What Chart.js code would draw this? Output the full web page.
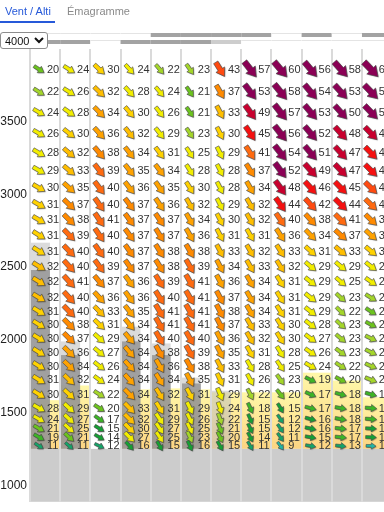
<!DOCTYPE html>
<html>
<head>
<meta charset="utf-8">
<script src="https://cdn.jsdelivr.net/npm/chart.js@4.4.0/dist/chart.umd.min.js"></script>
<style>
  html, body { margin: 0; padding: 0; background: #fff; width: 384px; height: 512px; overflow: hidden; font-family: "Liberation Sans", Arial, sans-serif; }
  #wrap { position: relative; width: 384px; height: 512px; }
  #graf { position: absolute; left: 0; top: 0; }
  .onglet { position: absolute; top: 5px; font-size: 11px; }
  #ongletVent { left: 5px; color: #2659d9; }
  #ongletEma { left: 67px; color: #8a8a8a; }
  #souligne { position: absolute; left: 0; top: 21px; width: 55px; height: 2px; background: #2659d9; }
  #altiMax { position: absolute; left: 0; top: 32px; width: 48px; height: 17px; font-size: 11px; padding: 0; border: 1px solid #8c8c8c; border-radius: 3px; background: #fff; color: #111; z-index: 2; }
</style>
</head>
<body>
<div id="wrap">
  <canvas id="graf" width="384" height="512"></canvas>
  <div class="onglet" id="ongletVent">Vent / Alti</div>
  <div class="onglet" id="ongletEma">Émagramme</div>
  <div id="souligne"></div>
  <select id="altiMax"><option>4000</option><option>6000</option></select>
</div>
<script>
// altitude des niveaux du modèle (m)
var altitudes = [3860, 3705, 3565, 3420, 3285, 3165, 3045, 2930, 2825, 2720, 2610, 2505, 2400, 2290, 2195, 2105, 2010, 1915, 1820, 1725, 1625, 1530, 1455, 1390, 1330, 1270];
var yTicks = [1000, 1500, 2000, 2500, 3000, 3500];
var sol = 1250;

// vitesse du vent (km/h), une liste par colonne horaire
var vitesses = [
  [20, 22, 24, 26, 28, 29, 30, 31, 31, 31, 31, 32, 32, 32, 31, 30, 30, 30, 30, 31, 30, 28, 24, 21, 19, 11],
  [24, 26, 28, 30, 32, 33, 35, 37, 38, 39, 40, 40, 41, 40, 40, 38, 37, 36, 34, 32, 31, 29, 27, 25, 21, 11],
  [30, 32, 34, 36, 38, 39, 40, 40, 41, 40, 40, 39, 37, 36, 33, 31, 29, 27, 26, 24, 22, 20, 17, 15, 14, 12],
  [24, 28, 30, 32, 34, 35, 36, 37, 37, 37, 37, 37, 36, 36, 35, 34, 34, 34, 34, 34, 34, 33, 32, 30, 27, 16],
  [22, 24, 26, 29, 31, 34, 35, 36, 37, 37, 38, 38, 39, 40, 41, 41, 40, 38, 36, 34, 32, 31, 29, 27, 25, 15],
  [23, 21, 21, 23, 25, 28, 30, 32, 34, 36, 38, 39, 41, 41, 41, 41, 40, 39, 38, 35, 31, 29, 26, 25, 23, 16],
  [43, 37, 33, 30, 29, 28, 28, 29, 30, 31, 33, 34, 36, 37, 38, 37, 36, 35, 33, 31, 29, 24, 22, 21, 20, 15],
  [57, 53, 49, 45, 41, 37, 34, 32, 32, 31, 32, 33, 34, 34, 34, 33, 32, 31, 28, 26, 22, 18, 15, 15, 14, 11],
  [60, 58, 57, 56, 54, 52, 48, 44, 40, 36, 33, 32, 31, 31, 31, 30, 30, 28, 25, 23, 20, 15, 12, 12, 11, 9],
  [56, 54, 53, 52, 51, 49, 46, 42, 38, 34, 31, 29, 29, 29, 29, 28, 27, 26, 24, 19, 17, 17, 16, 16, 15, 12],
  [58, 53, 50, 48, 47, 47, 45, 44, 41, 37, 33, 29, 25, 23, 22, 23, 23, 23, 22, 20, 18, 18, 18, 17, 17, 13],
  [62, 56, 53, 48, 45, 44, 43, 40, 38, 35, 31, 28, 26, 23, 21, 20, 22, 22, 22, 23, 19, 18, 17, 15, 14, 10]
];

// direction d'où vient le vent (degrés)
var directions = [
  [303, 302, 300, 300, 300, 300, 300, 300, 300, 302, 302, 302, 302, 302, 302, 302, 302, 302, 302, 302, 302, 300, 300, 300, 300, 303],
  [302, 302, 305, 308, 310, 310, 312, 314, 315, 316, 316, 318, 318, 318, 316, 316, 315, 315, 314, 314, 313, 313, 313, 312, 312, 310],
  [313, 314, 316, 318, 320, 322, 323, 325, 326, 326, 325, 324, 320, 318, 316, 314, 312, 310, 308, 306, 303, 303, 305, 302, 300, 296],
  [318, 318, 320, 322, 322, 322, 322, 323, 324, 324, 325, 325, 324, 324, 322, 321, 320, 320, 318, 318, 316, 316, 315, 315, 315, 318],
  [320, 320, 322, 322, 323, 323, 325, 326, 326, 328, 328, 328, 328, 328, 329, 330, 330, 330, 330, 328, 328, 328, 326, 326, 326, 330],
  [325, 326, 326, 326, 327, 328, 328, 330, 330, 330, 330, 330, 330, 330, 330, 330, 330, 330, 330, 332, 332, 334, 334, 334, 335, 335],
  [328, 330, 332, 333, 333, 333, 333, 333, 333, 332, 332, 332, 332, 332, 332, 332, 332, 332, 332, 335, 337, 340, 340, 338, 335, 330],
  [322, 323, 324, 326, 327, 328, 330, 330, 330, 330, 330, 330, 330, 330, 330, 330, 330, 330, 330, 332, 333, 335, 336, 335, 333, 330],
  [320, 321, 322, 322, 322, 323, 324, 325, 326, 327, 328, 328, 328, 328, 328, 328, 328, 328, 326, 325, 322, 330, 326, 326, 325, 324],
  [320, 320, 320, 320, 320, 318, 318, 318, 318, 316, 312, 310, 308, 308, 308, 307, 306, 304, 300, 296, 294, 285, 285, 282, 280, 280],
  [318, 318, 318, 318, 318, 316, 316, 315, 315, 312, 310, 310, 310, 312, 314, 312, 310, 306, 303, 298, 286, 280, 280, 276, 276, 276],
  [316, 316, 316, 316, 316, 315, 314, 314, 314, 312, 310, 308, 305, 302, 303, 298, 296, 296, 294, 292, 286, 275, 274, 273, 272, 272]
];

// sommet des thermiques, nuages (m) par colonne, null = rien
var thermique = [1585, 1686, null, 1659, 1666, 1659, 1639, 1639, 1639, 1774, 1720, 1605];
var nuageDense = [2480, 1895, null, 1989, 1895, 1700, null, null, null, null, null, null];
var nuageClair = [2668, 1989, null, 2090, 1975, 1740, 1650, null, null, null, null, null];

// couverture nuageuse haute / moyenne (0 rien, 1 peu, 2 couvert)
var couvHaute = [0, 0, 0, 0, 2, 2, 2, 2, 0, 2, 0, 2];
var couvMoy = [2, 2, 0, 2, 2, 2, 1, 0, 0, 0, 0, 0];

// échelle de couleurs vitesse
var seuils = [10, 13, 16, 19, 21, 23, 29, 31, 33, 36, 38, 41, 43, 46, 49, 999];
var couleurs = ["#22b5a5", "#14a468", "#15a033", "#3db526", "#6cc41e", "#a4d62a", "#f2ee00", "#ffd200", "#ffbe00", "#ffa200", "#ff8a00", "#ff6a10", "#ff4a10", "#f51010", "#c8002e", "#8a0055"];

var DX_FLECHE = 0.3;
var DX_TEXTE = 0.56;

function couleurVitesse(v) {
  for (var i = 0; i < seuils.length; i++) {
    if (v <= seuils[i]) return couleurs[i];
  }
  return couleurs[couleurs.length - 1];
}

function dessinerFleche(ctx, x, y, v, dir) {
  var L = 8 + v * 0.2;
  var hw = 2.6 + v * 0.06;
  var sw = 1 + v * 0.035;
  var hl = L * 0.48;
  var th = dir * Math.PI / 180;
  var ang = Math.atan2(Math.cos(th), -Math.sin(th));
  ctx.save();
  ctx.translate(x, y);
  ctx.rotate(ang);
  ctx.beginPath();
  ctx.moveTo(-L / 2, -sw);
  ctx.lineTo(L / 2 - hl, -sw);
  ctx.lineTo(L / 2 - hl, -hw);
  ctx.lineTo(L / 2, 0);
  ctx.lineTo(L / 2 - hl, hw);
  ctx.lineTo(L / 2 - hl, sw);
  ctx.lineTo(-L / 2, sw);
  ctx.closePath();
  ctx.shadowColor = "rgba(0,0,0,0.35)";
  ctx.shadowOffsetX = 0.8;
  ctx.shadowOffsetY = 0.8;
  ctx.shadowBlur = 1;
  ctx.fillStyle = couleurVitesse(v);
  ctx.fill();
  ctx.shadowColor = "transparent";
  ctx.lineWidth = 0.7;
  ctx.strokeStyle = "rgba(70,70,70,0.8)";
  ctx.stroke();
  ctx.restore();
}

var fond = {
  id: "fond",
  beforeDraw: function (chart) {
    var ctx = chart.ctx, ca = chart.chartArea, x = chart.scales.x, y = chart.scales.y;
    var yg = y.getPixelForValue(sol);
    ctx.save();
    // bandeau couverture nuageuse
    for (var c = 0; c < couvHaute.length; c++) {
      var x0 = x.getPixelForValue(c), x1 = x.getPixelForValue(c + 1);
      [[couvHaute[c], 33], [couvMoy[c], 40]].forEach(function (b) {
        ctx.fillStyle = b[0] == 2 ? "#a3a3a3" : b[0] == 1 ? "#cdcdcd" : "#ffffff";
        ctx.fillRect(x0, b[1], x1 - x0, 4);
        if (b[0] == 0) {
          ctx.fillStyle = "#e4e4e4";
          ctx.fillRect(x0, b[1], x1 - x0, 1);
        }
      });
    }
    // thermiques et nuages
    for (var c = 0; c < vitesses.length; c++) {
      var x0 = x.getPixelForValue(c), x1 = x.getPixelForValue(c + 1);
      var w = x1 - x0;
      if (thermique[c] != null) {
        var yt = y.getPixelForValue(thermique[c]);
        var g = ctx.createLinearGradient(0, yt, 0, yg);
        g.addColorStop(0, "#fff7a8");
        g.addColorStop(1, "#fcd482");
        ctx.fillStyle = g;
        ctx.fillRect(x0, yt, w, yg - yt);
      }
      if (nuageClair[c] != null) {
        var yl = y.getPixelForValue(nuageClair[c]);
        ctx.fillStyle = "rgba(190,190,190,0.55)";
        ctx.fillRect(x0, yl, w * 0.66, yg - yl);
      }
      if (nuageDense[c] != null) {
        var yd = y.getPixelForValue(nuageDense[c]);
        ctx.fillStyle = "rgba(140,140,140,0.75)";
        ctx.fillRect(x0, yd, w * 0.66, yg - yd);
      }
    }
    // relief
    ctx.fillStyle = "#cccccc";
    ctx.fillRect(ca.left, yg, ca.right - ca.left, ca.bottom - yg);
    ctx.restore();
  }
};

var fleches = {
  id: "fleches",
  afterDatasetsDraw: function (chart) {
    var ctx = chart.ctx, x = chart.scales.x;
    ctx.save();
    ctx.font = "11px 'Liberation Sans', Arial, sans-serif";
    ctx.textBaseline = "middle";
    chart.data.datasets.forEach(function (ds, i) {
      var meta = chart.getDatasetMeta(i);
      meta.data.forEach(function (pt, j) {
        var d = ds.data[j];
        dessinerFleche(ctx, pt.x, pt.y, d.v, d.d);
        ctx.fillStyle = "#333";
        ctx.fillText(String(d.v), x.getPixelForValue(d.col + DX_TEXTE), pt.y + 0.5);
      });
    });
    ctx.restore();
  }
};

var jeux = vitesses.map(function (serie, c) {
  return {
    label: "h" + c,
    data: serie.map(function (v, r) {
      return { x: c + DX_FLECHE, y: altitudes[r], v: v, d: directions[c][r], col: c };
    }),
    pointRadius: 0,
    showLine: false
  };
});

new Chart(document.getElementById("graf"), {
  type: "scatter",
  data: { datasets: jeux },
  options: {
    responsive: false,
    animation: false,
    devicePixelRatio: 1,
    layout: { padding: { top: 49, left: 0, right: 0, bottom: 0 } },
    plugins: { legend: { display: false }, tooltip: { enabled: false } },
    scales: {
      x: {
        type: "linear",
        min: 0,
        max: 11.73,
        afterBuildTicks: function (s) {
          s.ticks = vitesses.map(function (v, c) { return { value: c }; });
        },
        afterFit: function (s) { s.height = 0; },
        ticks: { display: false },
        border: { display: false },
        grid: { color: "#dadada", lineWidth: 2, drawTicks: false }
      },
      y: {
        min: 886,
        max: 4000,
        afterBuildTicks: function (s) {
          s.ticks = yTicks.map(function (v) { return { value: v }; });
        },
        afterFit: function (s) { s.width = 30; },
        ticks: {
          color: "#222",
          padding: 3,
          font: { size: 12, family: "'Liberation Sans', Arial, sans-serif" },
          callback: function (v) { return String(v); }
        },
        border: { display: false },
        grid: { display: false, drawTicks: false }
      }
    }
  },
  plugins: [fond, fleches]
});
</script>
</body>
</html>
